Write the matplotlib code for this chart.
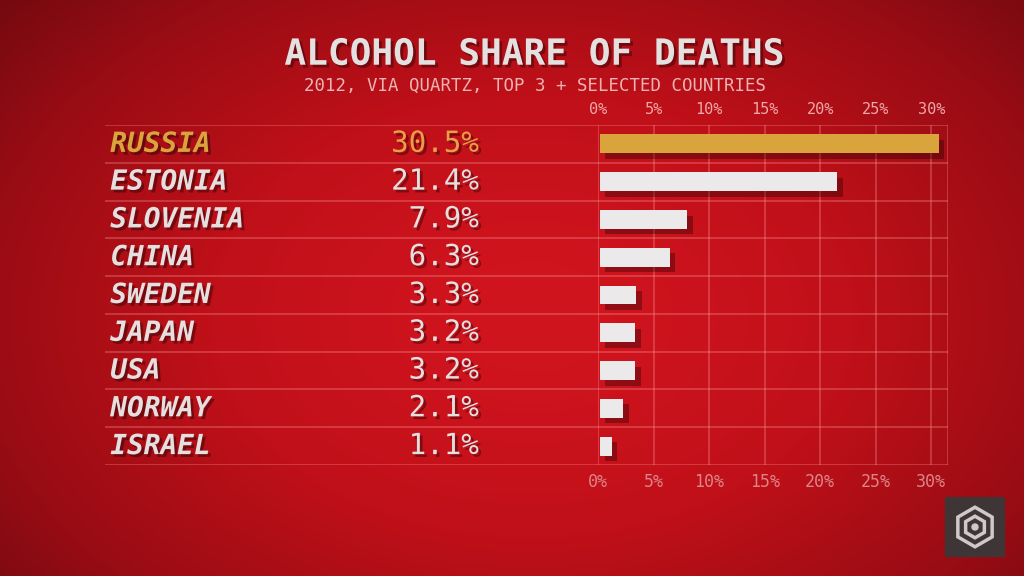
import numpy as np
import matplotlib.pyplot as plt
from matplotlib import patheffects as pe
from matplotlib.colors import LinearSegmentedColormap
from matplotlib.patches import RegularPolygon, Circle

# data
countries = ["RUSSIA", "ESTONIA", "SLOVENIA", "CHINA", "SWEDEN", "JAPAN", "USA", "NORWAY", "ISRAEL"]
shares = [30.5, 21.4, 7.9, 6.3, 3.3, 3.2, 3.2, 2.1, 1.1]
tick_values = [0, 5, 10, 15, 20, 25, 30]
tick_labels = ["0%", "5%", "10%", "15%", "20%", "25%", "30%"]
highlight = "RUSSIA"

title = "ALCOHOL SHARE OF DEATHS"
subtitle = "2012, VIA QUARTZ, TOP 3 + SELECTED COUNTRIES"

MONO = "DejaVu Sans Mono"
TXT = "#e4e0e0"
GOLD = "#d9a43c"
GOLD_VAL = "#e8a048"
GRID = (1.0, 0.62, 0.62, 0.35)

fig = plt.figure(figsize=(10.24, 5.76), dpi=100)

# red vignette background
bg = fig.add_axes([0, 0, 1, 1])
yy, xx = np.mgrid[0:1:300j, 0:1:520j]
r = np.sqrt(((xx - 0.52) / 0.78) ** 2 + ((yy - 0.55) / 0.95) ** 2)
cmap = LinearSegmentedColormap.from_list("bg", ["#d0141e", "#c01019", "#980c14", "#5e080d"])
bg.imshow(r, cmap=cmap, vmin=0.1, vmax=1.0, extent=[0, 1, 0, 1], aspect="auto", origin="upper")
bg.set_axis_off()

shadow = [pe.withSimplePatchShadow(offset=(2, -2), shadow_rgbFace="black", alpha=0.35)]

fig.text(0.522, 0.905, title, ha="center", va="center", fontsize=26, fontweight="bold",
         family=MONO, color=TXT, path_effects=shadow)
fig.text(0.522, 0.851, subtitle, ha="center", va="center", fontsize=12.5,
         family=MONO, color="#eeb3b3")

n = len(countries)
rows = np.arange(n) + 0.5
bottom = 1 - 465 / 576
height = 340 / 576

# table part
tab = fig.add_axes([90 / 1024, bottom, (598 - 90) / 1024, height])
tab.set_xlim(0, 1)
tab.set_ylim(n, 0)
tab.set_axis_off()
tab.hlines(np.arange(n + 1), 0.03, 1, color=GRID, lw=1.2)
for y, c, v in zip(rows, countries, shares):
    col = GOLD if c == highlight else TXT
    vcol = GOLD_VAL if c == highlight else TXT
    tab.text(0.04, y, c, ha="left", va="center", fontsize=20, fontweight="bold",
             style="italic", family=MONO, color=col, path_effects=shadow)
    tab.text(0.765, y, f"{v}%", ha="right", va="center", fontsize=21,
             family=MONO, color=vcol, path_effects=shadow)

# bar part
ax = fig.add_axes([598 / 1024, bottom, 350 / 1024, height])
ax.patch.set_alpha(0)
ax.set_xlim(0, 31.5)
ax.set_ylim(n, 0)
ax.hlines(np.arange(n + 1), 0, 31.5, color=GRID, lw=1.2, zorder=1)
ax.vlines(tick_values + [31.5], 0, n, color=GRID, lw=1.2, zorder=1)
colors = [GOLD if c == highlight else "#ebe9e9" for c in countries]
ax.barh(rows, shares, left=0.15, height=0.5, color=colors, zorder=3,
        path_effects=[pe.SimplePatchShadow(offset=(4, -4), shadow_rgbFace="black", alpha=0.3), pe.Normal()])
for s in ax.spines.values():
    s.set_visible(False)
ax.set_yticks([])
ax.set_xticks(tick_values, tick_labels)
ax.tick_params(axis="x", top=True, labeltop=True, bottom=True, labelbottom=True, length=0, pad=6)
for t in ax.xaxis.get_major_ticks():
    t.label1.set_color("#dc8588")
    t.label1.set_fontsize(12)
    t.label1.set_family(MONO)
    t.label2.set_color("#f0a8a8")
    t.label2.set_fontsize(11)
    t.label2.set_family(MONO)

# watermark logo
logo = fig.add_axes([945 / 1024, 19 / 576, 60 / 1024, 60 / 576])
logo.set_facecolor("#3e3536")
logo.set_xlim(0, 1)
logo.set_ylim(0, 1)
logo.set_xticks([])
logo.set_yticks([])
for s in logo.spines.values():
    s.set_visible(False)
logo.add_patch(RegularPolygon((0.5, 0.5), 6, radius=0.33, fill=False, ec="#cfc9c9", lw=2.5))
logo.add_patch(RegularPolygon((0.5, 0.5), 6, radius=0.18, fill=False, ec="#cfc9c9", lw=2.5))
logo.add_patch(Circle((0.5, 0.5), 0.05, color="#cfc9c9"))

fig.savefig("out.png", dpi=100)
